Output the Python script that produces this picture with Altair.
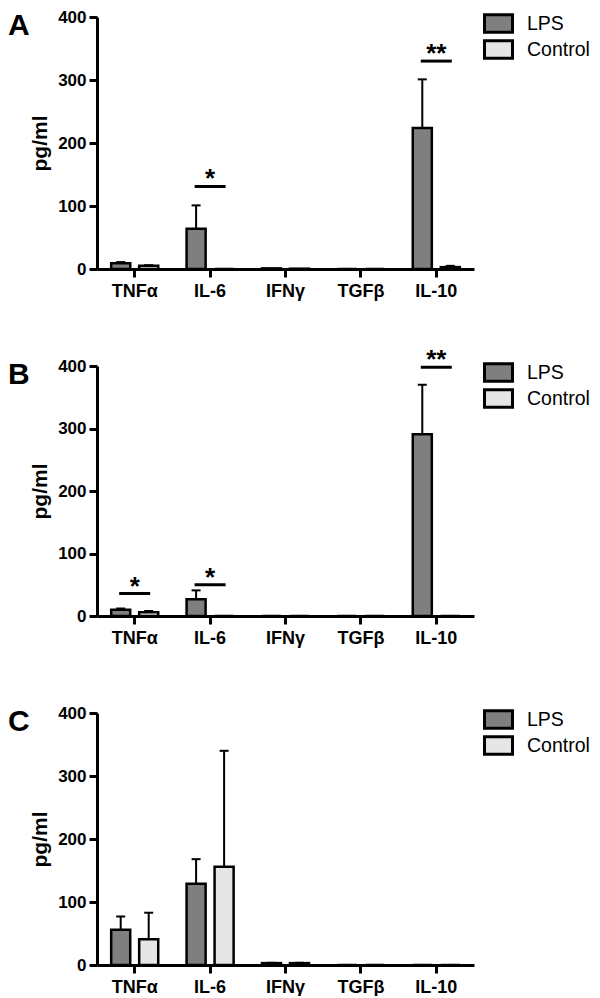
import altair as alt
import pandas as pd

cytokines = ["TNFα", "IL-6", "IFNγ", "TGFβ", "IL-10"]
groups = ["LPS", "Control"]
colors = ["#7f7f7f", "#e6e6e6"]
y_ticks = [0, 100, 200, 300, 400]

# Panel A
a_lps = [9, 64, 1, 0, 224]
a_lps_err = [2, 37, 0, 0, 77]
a_ctl = [5, 0, 0.5, 0, 3]
a_ctl_err = [1, 0, 0, 0, 2]
a_sig_cyt = ["IL-6", "IL-10"]
a_sig_y = [131, 330]
a_sig_txt = ["*", "**"]

# Panel B
b_lps = [10, 27, 0, 0, 291]
b_lps_err = [2, 14, 0, 0, 79]
b_ctl = [6, 0, 0, 0, 0]
b_ctl_err = [2, 0, 0, 0, 0]
b_sig_cyt = ["TNFα", "IL-6", "IL-10"]
b_sig_y = [36, 50, 398]
b_sig_txt = ["*", "*", "**"]

# Panel C
c_lps = [56, 129, 3, 0, 0]
c_lps_err = [21, 39, 0.5, 0, 0]
c_ctl = [41, 156, 3, 0, 0]
c_ctl_err = [42, 184, 0.5, 0, 0]
c_sig_cyt = []
c_sig_y = []
c_sig_txt = []

FONT = "Liberation Sans"
W = 377


def panel(letter, lps, lps_err, ctl, ctl_err, sig_cyt, sig_y, sig_txt, height):
    rows = []
    for i, c in enumerate(cytokines):
        rows.append(dict(cyt=c, grp="LPS", val=lps[i], err=lps_err[i], top=lps[i] + lps_err[i]))
        rows.append(dict(cyt=c, grp="Control", val=ctl[i], err=ctl_err[i], top=ctl[i] + ctl_err[i]))
    df = pd.DataFrame(rows)

    x = alt.X("cyt:N", sort=cytokines,
              scale=alt.Scale(domain=cytokines, paddingInner=0, paddingOuter=0),
              axis=alt.Axis(title=None, labelAngle=0, labelFontSize=18, labelPadding=5))
    xo = alt.XOffset("grp:N", sort=groups,
                     scale=alt.Scale(domain=groups, paddingInner=0.32, paddingOuter=0.506))
    yaxis = alt.Axis(values=y_ticks, title="pg/ml", titleFontSize=21, titlePadding=7,
                     labelFontSize=17, labelPadding=3)
    yscale = alt.Scale(domain=[0, 400], nice=False)

    color = alt.Color("grp:N", sort=groups,
                      scale=alt.Scale(domain=groups, range=colors),
                      legend=alt.Legend(title=None, orient="none", legendX=W + 14, legendY=-4,
                                        symbolType="M-1.6,-1L1.6,-1L1.6,1L-1.6,1Z",
                                        symbolSize=306, symbolStrokeColor="black",
                                        symbolStrokeWidth=3, symbolOpacity=1,
                                        labelFontSize=19.5, labelFont=FONT, labelColor="black",
                                        labelOffset=18, rowPadding=-7))

    base = alt.Chart(df)
    bars = base.mark_bar(stroke="black", strokeWidth=2.5, opacity=1).encode(
        x=x, xOffset=xo, y=alt.Y("val:Q", scale=yscale, axis=yaxis), color=color)
    err = base.transform_filter("datum.err > 0").mark_rule(color="black", strokeWidth=2).encode(
        x=x, xOffset=xo, y=alt.Y("val:Q", scale=yscale, axis=yaxis), y2="top:Q")
    caps = base.transform_filter("datum.err > 0").mark_tick(
        color="black", size=9, thickness=2, opacity=1).encode(
        x=x, xOffset=xo, y=alt.Y("top:Q", scale=yscale, axis=yaxis))

    layers = [err, bars, caps]

    if sig_cyt:
        sdf = pd.DataFrame(dict(cyt=sig_cyt, sy=sig_y, txt=sig_txt))
        sbase = alt.Chart(sdf)
        lines = sbase.mark_tick(color="black", size=31, thickness=3, opacity=1).encode(
            x=x, y=alt.Y("sy:Q", scale=yscale, axis=yaxis))
        stars = sbase.mark_text(font=FONT, fontSize=26, fontWeight="bold", color="black",
                                baseline="alphabetic", dy=1).encode(
            x=x, y=alt.Y("sy:Q", scale=yscale, axis=yaxis), text="txt:N")
        layers += [lines, stars]

    ldf = pd.DataFrame(dict(letter=[letter]))
    lab = alt.Chart(ldf).mark_text(font=FONT, fontSize=30, fontWeight="bold", color="black",
                                   align="left", baseline="top").encode(
        x=alt.value(-89), y=alt.value(-6), text="letter:N")
    layers.append(lab)

    return alt.layer(*layers).properties(width=W, height=height)


pa = panel("A", a_lps, a_lps_err, a_ctl, a_ctl_err, a_sig_cyt, a_sig_y, a_sig_txt, 252)
pb = panel("B", b_lps, b_lps_err, b_ctl, b_ctl_err, b_sig_cyt, b_sig_y, b_sig_txt, 250)
pc = panel("C", c_lps, c_lps_err, c_ctl, c_ctl_err, c_sig_cyt, c_sig_y, c_sig_txt, 252)

chart = alt.vconcat(pa, pb, pc, spacing=97, bounds="flush").resolve_scale(
    color="independent").properties(padding=0).configure_view(stroke=None).configure_axis(
    grid=False, domainColor="black", domainWidth=3, tickColor="black", tickWidth=3,
    tickSize=8, labelColor="black", labelFont=FONT, labelFontWeight="bold",
    titleColor="black", titleFont=FONT, titleFontWeight="bold")

chart.save("out.html", embed_options={"renderer": "svg", "actions": False})
